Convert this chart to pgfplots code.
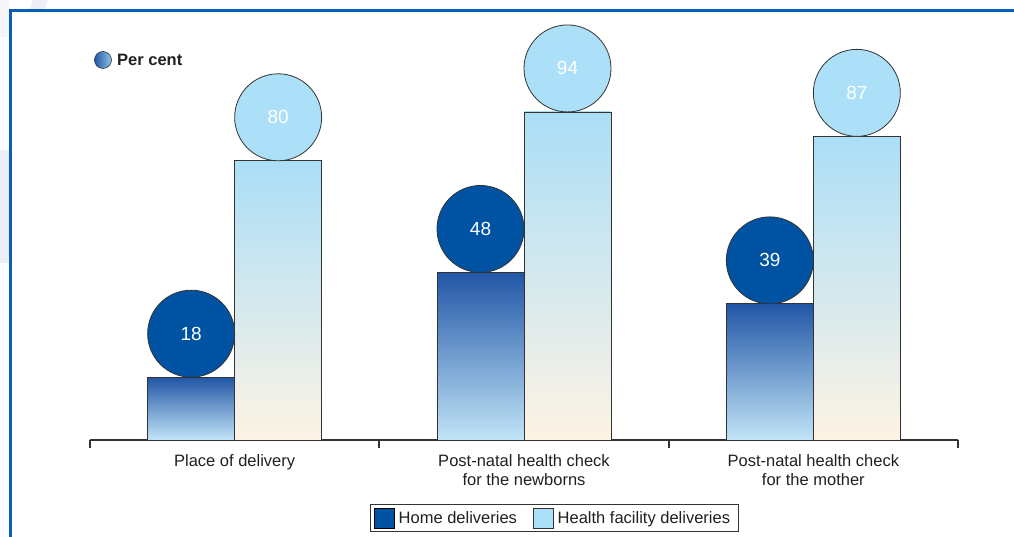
\documentclass[border=0pt]{standalone}
\usepackage{pgfplots}
\pgfplotsset{compat=1.18}
\usepackage{fontspec}
\setmainfont{Liberation Sans}
\definecolor{frameblue}{HTML}{0A5EB8}
\definecolor{homeblue}{HTML}{0052A3}
\definecolor{facblue}{HTML}{ACDFF8}
\definecolor{hometop}{HTML}{2256A6}
\definecolor{homebot}{HTML}{C2E4F7}
\definecolor{factop}{HTML}{ABDEF7}
\definecolor{facbot}{HTML}{FDF3E4}
\definecolor{axisgray}{HTML}{333333}
\definecolor{txt}{HTML}{231F20}
\definecolor{lav}{HTML}{EEEEF7}
\begin{document}
\begin{tikzpicture}[x=1pt,y=1pt]
\path[use as bounding box] (0,0) rectangle (1014,537);
% faint background stripes outside the frame
\fill[lav] (33,537) -- (48,537) -- (44,526) -- (29,526) -- cycle;
\fill[lav] (0,387) rectangle (9,274);
\fill[lav!60] (0,537) rectangle (9,500);
% frame
\draw[frameblue, line width=3pt] (10,-2) -- (10,526) -- (1016,526);
\begin{axis}[
  at={(90pt,97pt)}, anchor=south west,
  scale only axis, width=868pt, height=349pt,
  xmin=-0.5, xmax=2.5, ymin=0, ymax=100,
  axis x line=bottom, axis y line=none,
  x axis line style={-, draw=axisgray, line width=1.3pt},
  xtick={0,1,2},
  xticklabels={Place of delivery, {Post-natal health check\\for the newborns}, {Post-natal health check\\for the mother}},
  xticklabel style={align=center, text=txt, font=\fontsize{16.5}{19.5}\selectfont, yshift=-11pt},
  major tick length=0pt,
  extra x ticks={-0.5,0.5,1.5,2.5},
  extra x tick labels={},
  extra x tick style={major tick length=8pt, tick align=outside, tick style={draw=axisgray, line width=1.8pt}},
  clip=false,
  legend columns=2,
  legend style={at={(0.5346,-0.2235)}, anchor=center, draw=axisgray, line width=0.8pt,
    font=\fontsize{16.5}{18}\selectfont, text=txt,
    /tikz/every even column/.append style={column sep=12pt},
    nodes={inner xsep=4pt},
    inner xsep=4pt, inner ysep=3pt},
  legend image code/.code={\draw[#1, line width=0.7pt] (0pt,-10pt) rectangle (20pt,10pt);},
  /pgf/number format/assume math mode=true,
]
% home bars
\addplot[ybar, bar width=87pt, bar shift=-43.5pt, draw=axisgray, line width=0.8pt, top color=hometop, bottom color=homebot, forget plot] coordinates {(0,18)};
\addplot[ybar, bar width=87pt, bar shift=-43.5pt, draw=axisgray, line width=0.8pt, top color=hometop, bottom color=homebot, forget plot] coordinates {(1,48)};
\addplot[ybar, bar width=87pt, bar shift=-43.5pt, draw=axisgray, line width=0.8pt, top color=hometop, bottom color=homebot, forget plot] coordinates {(2,39)};
% facility bars
\addplot[ybar, bar width=87pt, bar shift=43.5pt, draw=axisgray, line width=0.8pt, top color=factop, bottom color=facbot, forget plot] coordinates {(0,80)};
\addplot[ybar, bar width=87pt, bar shift=43.5pt, draw=axisgray, line width=0.8pt, top color=factop, bottom color=facbot, forget plot] coordinates {(1,94)};
\addplot[ybar, bar width=87pt, bar shift=43.5pt, draw=axisgray, line width=0.8pt, top color=factop, bottom color=facbot, forget plot] coordinates {(2,87)};
% circles with values
\addplot[only marks, mark=*, mark size=43.5pt,
  mark options={fill=homeblue, draw=axisgray, line width=0.8pt, yshift=43.5pt},
  nodes near coords,
  every node near coord/.append style={anchor=center, text=white, font=\fontsize{19}{19}\selectfont},
  forget plot] coordinates {(-0.15035,18) (0.84965,48) (1.84965,39)};
\addplot[only marks, mark=*, mark size=43.5pt,
  mark options={fill=facblue, draw=axisgray, line width=0.8pt, yshift=43.5pt},
  nodes near coords,
  every node near coord/.append style={anchor=center, text=white, font=\fontsize{19}{19}\selectfont},
  forget plot] coordinates {(0.15035,80) (1.15035,94) (2.15035,87)};
\addlegendimage{fill=homeblue, draw=black}
\addlegendentry{Home deliveries}
\addlegendimage{fill=facblue, draw=axisgray}
\addlegendentry{Health facility deliveries}
\end{axis}
% "Per cent" key
\draw[axisgray, line width=0.6pt, left color=hometop, right color=facblue!80!hometop] (103,477) circle (8.5);
\node[anchor=west, inner sep=0pt, text=txt, font=\fontsize{16.5}{18}\selectfont\bfseries] at (117,477) {Per cent};
\end{tikzpicture}
\end{document}
